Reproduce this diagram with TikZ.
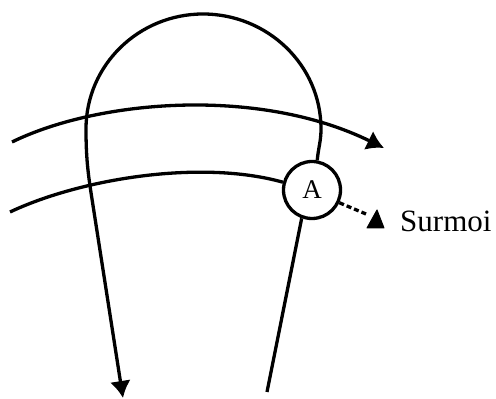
\documentclass[tikz,border=0pt]{standalone}
\usepackage{fontspec}
\setmainfont{Liberation Serif}
\usetikzlibrary{arrows.meta}
\begin{document}
\begin{tikzpicture}[x=1pt,y=1pt,
  ln/.style={line width=3.3pt},
  bigtip/.style={-{Latex[length=17pt,width=21pt]}},
  dashln/.style={line width=3.3pt, dash pattern=on 5pt off 3pt},
  tipfill/.style={fill=black, draw=black, line width=1pt, line join=round},
  circ/.style={draw, circle, line width=3.3pt, minimum size=57pt, inner sep=0pt, font=\fontsize{27}{27}\selectfont},
  lbl/.style={anchor=base west, inner sep=0pt, font=\fontsize{31}{31}\selectfont}]
\useasboundingbox (0,0) rectangle (496,399);
\node[circ] (A) at (312,209) {A};
\node[lbl] (S) at (400,167) {Surmoi};
\coordinate (u0) at (12,257);
\coordinate (u1) at (384,251);
\coordinate (l0) at (10,187);
\coordinate (archR) at (321,270);
\coordinate (archT) at (203,385);
\coordinate (archL) at (86,270);
\coordinate (legL) at (92,200);
\coordinate (legLend) at (123,1);
\coordinate (legRend) at (267,7);
\coordinate (dend) at (366,185);
% upper arrow curve
\draw[ln,bigtip] (u0) .. controls (100,300) and (260,312) .. (u1);
% lower curve into A
\draw[ln] (l0) .. controls (80,220) and (200,240) .. (A.165);
% arch and left leg
\draw[ln,bigtip] (A.80) to[out=85,in=-90] (archR) to[out=90,in=0] (archT)
  to[out=180,in=90] (archL) to[out=-90,in=99] (legL) -- (legLend);
% right lower leg
\draw[ln] (A.-110) -- (legRend);
% dashed to Surmoi
\draw[dashln] (A.-25) -- (dend);
\filldraw[tipfill] (377,189) -- (367,171) -- (384,171) -- cycle;
\end{tikzpicture}
\end{document}
